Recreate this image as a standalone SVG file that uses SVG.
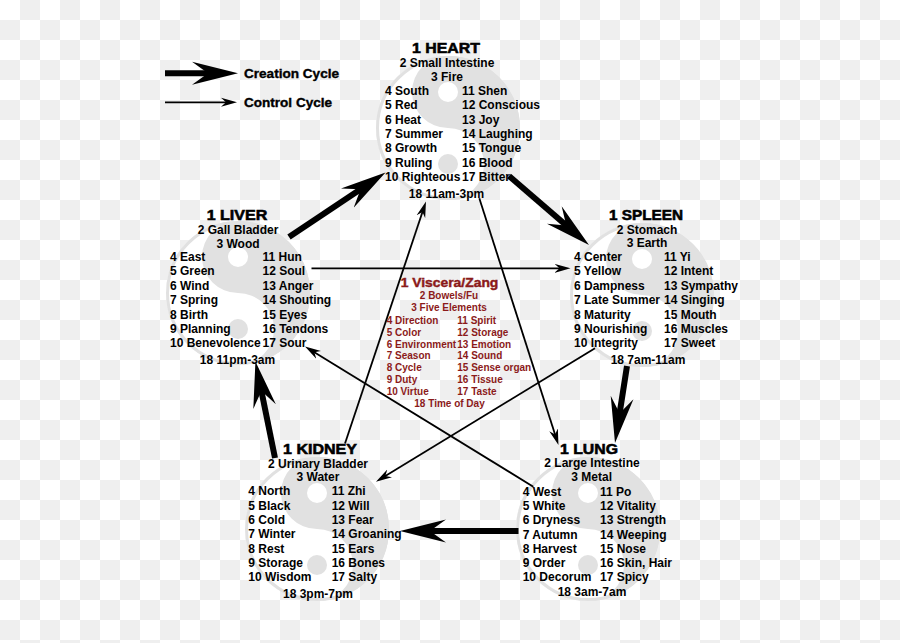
<svg xmlns="http://www.w3.org/2000/svg" xmlns:xlink="http://www.w3.org/1999/xlink" width="900" height="643" viewBox="0 0 900 643">
<style>
.t{font-family:"Liberation Sans",Arial,sans-serif;font-weight:bold;font-size:12px;fill:#000}
.c{text-anchor:middle}
.h{font-size:14px;text-anchor:middle;stroke:#000;stroke-width:0.55}
.r{fill:#8b1a1a;font-size:10px}
.rh{fill:#8b1a1a;font-size:12px;text-anchor:middle;stroke:#8b1a1a;stroke-width:0.4}
.lg{stroke:#000;stroke-width:0.35}
.thick{stroke:#000;stroke-width:6;fill:none;marker-end:url(#big)}
.thin{stroke:#000;stroke-width:1.8;fill:none;marker-end:url(#small)}
</style>
<defs>
<pattern id="chk" width="40" height="40" patternUnits="userSpaceOnUse">
<rect width="40" height="40" fill="#ffffff"/>
<rect x="20" y="0" width="20" height="20" fill="#efefef"/>
<rect x="0" y="20" width="20" height="20" fill="#efefef"/>
</pattern>
<g id="yy">
<circle r="72" fill="#e1e1e1"/>
<path d="M0,-72 A72,72 0 0 0 0,72 A36,36 0 0 0 0,0 A36,36 0 0 1 0,-72 Z" fill="#ffffff"/>
<circle r="70.5" fill="none" stroke="#e1e1e1" stroke-width="3"/>
<circle cy="-36" r="10" fill="#ffffff"/>
<circle cy="36" r="10" fill="#e1e1e1"/>
</g>
<marker id="big" markerUnits="userSpaceOnUse" viewBox="0 -12 47 24" markerWidth="47" markerHeight="24" refX="20" refY="0" orient="auto">
<path d="M46,0 L0,-11.5 L16,0 L0,11.5 Z" fill="#000"/>
</marker>
<marker id="small" markerUnits="userSpaceOnUse" viewBox="0 -5 17 10" markerWidth="17" markerHeight="10" refX="6" refY="0" orient="auto">
<path d="M16,0 L0,-4.5 L5,0 L0,4.5 Z" fill="#000"/>
</marker>
</defs>
<rect width="900" height="643" fill="url(#chk)"/>

<g id="yinyangs">
<use xlink:href="#yy" href="#yy" x="448" y="128"/>
<use xlink:href="#yy" href="#yy" x="238" y="293"/>
<use xlink:href="#yy" href="#yy" x="642" y="295"/>
<use xlink:href="#yy" href="#yy" x="317" y="529"/>
<use xlink:href="#yy" href="#yy" x="588" y="529"/>
</g>

<g id="legend">
<line class="thick" x1="165" y1="73.3" x2="212" y2="73.3"/>
<text class="t lg" x="244" y="77.7" textLength="95" lengthAdjust="spacingAndGlyphs">Creation Cycle</text>
<line class="thin" x1="165" y1="102.3" x2="227" y2="102.3"/>
<text class="t lg" x="244" y="107.3" textLength="88" lengthAdjust="spacingAndGlyphs">Control Cycle</text>
</g>

<g id="heart">
<text class="t h" x="446" y="52.5" textLength="68" lengthAdjust="spacingAndGlyphs">1 HEART</text>
<text class="t c" x="447" y="66.5">2 Small Intestine</text>
<text class="t c" x="447" y="80.5">3 Fire</text>
<text class="t"><tspan x="385" y="94.8">4 South</tspan><tspan x="385" y="109.2">5 Red</tspan><tspan x="385" y="123.6">6 Heat</tspan><tspan x="385" y="138">7 Summer</tspan><tspan x="385" y="152.4">8 Growth</tspan><tspan x="385" y="166.8">9 Ruling</tspan><tspan x="385" y="181.2">10 Righteous</tspan></text>
<text class="t"><tspan x="462" y="94.8">11 Shen</tspan><tspan x="462" y="109.2">12 Conscious</tspan><tspan x="462" y="123.6">13 Joy</tspan><tspan x="462" y="138">14 Laughing</tspan><tspan x="462" y="152.4">15 Tongue</tspan><tspan x="462" y="166.8">16 Blood</tspan><tspan x="462" y="181.2">17 Bitter</tspan></text>
<text class="t c" x="446.5" y="197.5">18 11am-3pm</text>
</g>

<g id="liver">
<text class="t h" x="237" y="220" textLength="60.6" lengthAdjust="spacingAndGlyphs">1 LIVER</text>
<text class="t c" x="238" y="234">2 Gall Bladder</text>
<text class="t c" x="238" y="248">3 Wood</text>
<text class="t"><tspan x="170" y="261">4 East</tspan><tspan x="170" y="275.4">5 Green</tspan><tspan x="170" y="289.8">6 Wind</tspan><tspan x="170" y="304.2">7 Spring</tspan><tspan x="170" y="318.6">8 Birth</tspan><tspan x="170" y="333">9 Planning</tspan><tspan x="170" y="347.4">10 Benevolence</tspan></text>
<text class="t"><tspan x="262.5" y="261">11 Hun</tspan><tspan x="262.5" y="275.4">12 Soul</tspan><tspan x="262.5" y="289.8">13 Anger</tspan><tspan x="262.5" y="304.2">14 Shouting</tspan><tspan x="262.5" y="318.6">15 Eyes</tspan><tspan x="262.5" y="333">16 Tendons</tspan><tspan x="262.5" y="347.4">17 Sour</tspan></text>
<text class="t c" x="237.5" y="363.5">18 11pm-3am</text>
</g>

<g id="spleen">
<text class="t h" x="646" y="219.5" textLength="74" lengthAdjust="spacingAndGlyphs">1 SPLEEN</text>
<text class="t c" x="647" y="233.5">2 Stomach</text>
<text class="t c" x="647" y="247">3 Earth</text>
<text class="t"><tspan x="574" y="261">4 Center</tspan><tspan x="574" y="275.4">5 Yellow</tspan><tspan x="574" y="289.8">6 Dampness</tspan><tspan x="574" y="304.2">7 Late Summer</tspan><tspan x="574" y="318.6">8 Maturity</tspan><tspan x="574" y="333">9 Nourishing</tspan><tspan x="574" y="347.4">10 Integrity</tspan></text>
<text class="t"><tspan x="664" y="261">11 Yi</tspan><tspan x="664" y="275.4">12 Intent</tspan><tspan x="664" y="289.8">13 Sympathy</tspan><tspan x="664" y="304.2">14 Singing</tspan><tspan x="664" y="318.6">15 Mouth</tspan><tspan x="664" y="333">16 Muscles</tspan><tspan x="664" y="347.4">17 Sweet</tspan></text>
<text class="t c" x="648" y="364">18 7am-11am</text>
</g>

<g id="kidney">
<text class="t h" x="320" y="454" textLength="74" lengthAdjust="spacingAndGlyphs">1 KIDNEY</text>
<text class="t c" x="318" y="467.5">2 Urinary Bladder</text>
<text class="t c" x="318" y="481.3">3 Water</text>
<text class="t"><tspan x="248.3" y="495.3">4 North</tspan><tspan x="248.3" y="509.6">5 Black</tspan><tspan x="248.3" y="523.9">6 Cold</tspan><tspan x="248.3" y="538.2">7 Winter</tspan><tspan x="248.3" y="552.5">8 Rest</tspan><tspan x="248.3" y="566.8">9 Storage</tspan><tspan x="248.3" y="581.1">10 Wisdom</tspan></text>
<text class="t"><tspan x="331.7" y="495.3">11 Zhi</tspan><tspan x="331.7" y="509.6">12 Will</tspan><tspan x="331.7" y="523.9">13 Fear</tspan><tspan x="331.7" y="538.2">14 Groaning</tspan><tspan x="331.7" y="552.5">15 Ears</tspan><tspan x="331.7" y="566.8">16 Bones</tspan><tspan x="331.7" y="581.1">17 Salty</tspan></text>
<text class="t c" x="318" y="597.5">18 3pm-7pm</text>
</g>

<g id="lung">
<text class="t h" x="589" y="454" textLength="58" lengthAdjust="spacingAndGlyphs">1 LUNG</text>
<text class="t c" x="592" y="467">2 Large Intestine</text>
<text class="t c" x="591.7" y="481">3 Metal</text>
<text class="t"><tspan x="522.7" y="496">4 West</tspan><tspan x="522.7" y="510.2">5 White</tspan><tspan x="522.7" y="524.4">6 Dryness</tspan><tspan x="522.7" y="538.6">7 Autumn</tspan><tspan x="522.7" y="552.8">8 Harvest</tspan><tspan x="522.7" y="567">9 Order</tspan><tspan x="522.7" y="581.2">10 Decorum</tspan></text>
<text class="t"><tspan x="600" y="496">11 Po</tspan><tspan x="600" y="510.2">12 Vitality</tspan><tspan x="600" y="524.4">13 Strength</tspan><tspan x="600" y="538.6">14 Weeping</tspan><tspan x="600" y="552.8">15 Nose</tspan><tspan x="600" y="567">16 Skin, Hair</tspan><tspan x="600" y="581.2">17 Spicy</tspan></text>
<text class="t c" x="592" y="596">18 3am-7am</text>
</g>

<g id="key">
<text class="t rh" x="449.5" y="287.3" textLength="97.7" lengthAdjust="spacingAndGlyphs">1 Viscera/Zang</text>
<text class="t r c" x="449" y="298.5">2 Bowels/Fu</text>
<text class="t r c" x="449" y="310.5">3 Five Elements</text>
<text class="t r"><tspan x="386.7" y="324">4 Direction</tspan><tspan x="386.7" y="335.8">5 Color</tspan><tspan x="386.7" y="347.5">6 Environment</tspan><tspan x="386.7" y="359.3">7 Season</tspan><tspan x="386.7" y="371">8 Cycle</tspan><tspan x="386.7" y="382.8">9 Duty</tspan><tspan x="386.7" y="394.6">10 Virtue</tspan></text>
<text class="t r"><tspan x="457.3" y="324">11 Spirit</tspan><tspan x="457.3" y="335.8">12 Storage</tspan><tspan x="457.3" y="347.5">13 Emotion</tspan><tspan x="457.3" y="359.3">14 Sound</tspan><tspan x="457.3" y="371">15 Sense organ</tspan><tspan x="457.3" y="382.8">16 Tissue</tspan><tspan x="457.3" y="394.6">17 Taste</tspan></text>
<text class="t r c" x="449.5" y="406.5">18 Time of Day</text>
</g>

<g id="connectors">
<line class="thick" x1="289" y1="237" x2="363.9" y2="187"/>
<line class="thick" x1="509" y1="176" x2="569.3" y2="228"/>
<line class="thick" x1="627" y1="366" x2="619" y2="417.3"/>
<line class="thick" x1="518.5" y1="531" x2="426" y2="531"/>
<line class="thick" x1="275" y1="458" x2="260.6" y2="387"/>
<line class="thin" x1="311.5" y1="268.3" x2="560.5" y2="268.3"/>
<line class="thin" x1="595" y1="348.3" x2="384.5" y2="476.5"/>
<line class="thin" x1="345" y1="443.5" x2="422.8" y2="211"/>
<line class="thin" x1="479.3" y1="198.3" x2="555.4" y2="435.5"/>
<line class="thin" x1="533.3" y1="486.7" x2="313.5" y2="351.7"/>
</g>
</svg>
